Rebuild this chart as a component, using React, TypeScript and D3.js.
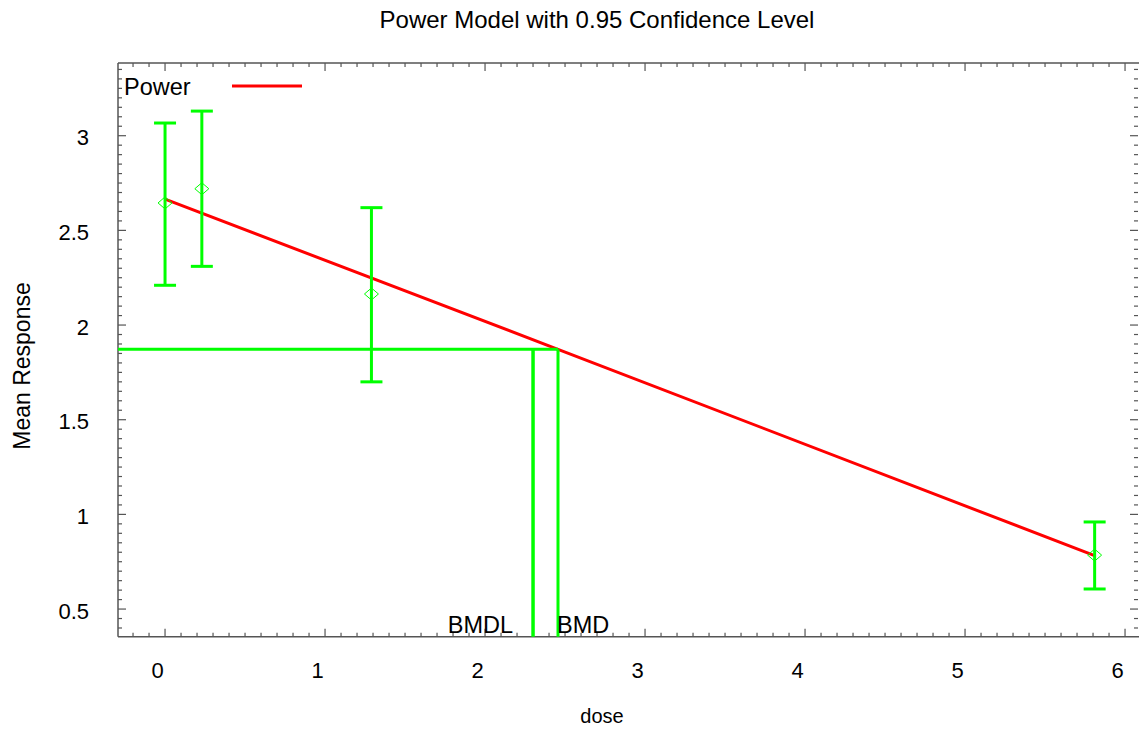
import React from "react";
import * as d3 from "d3";

const doses = [0, 0.23, 1.29, 5.81];
const means = [2.645, 2.72, 2.164, 0.785];
const upper = [3.067, 3.13, 2.62, 0.96];
const lower = [2.21, 2.31, 1.70, 0.606];
const fitDose = [0, 2.456, 5.81];
const fitMean = [2.665, 1.872, 0.782];
const bmd = 2.456;
const bmdl = 2.30;
const bmrResponse = 1.872;
const xTicks = [0, 1, 2, 3, 4, 5, 6];
const yTicks = [0.5, 1, 1.5, 2, 2.5, 3];

const W = 1139, H = 730;
const L = 118, R = 1138, T = 63, B = 636.7;
const FONT = "'Liberation Sans', Arial, sans-serif";

export default function App() {
  const x = d3.scaleLinear().domain([-0.294, 6.081]).range([L, R]);
  const y = d3.scaleLinear().domain([0.354, 3.384]).range([B, T]);
  const green = "#00ff00";
  const axisCol = "#555";

  const xMinor = d3.range(-0.2, 6.081, 0.1).map(v => Math.round(v * 10) / 10);
  const yMinor = d3.range(0.4, 3.384, 0.05).map(v => Math.round(v * 100) / 100);
  const isMajorX = (v: number) => Math.abs(v - Math.round(v)) < 1e-6;
  const isMajorY = (v: number) => Math.abs(v * 2 - Math.round(v * 2)) < 1e-6;

  const line = d3.line<number>().x((_, i) => x(fitDose[i])).y(d => y(d));
  const capW = 11;

  return (
    <svg width={W} height={H} style={{ position: "absolute", left: 0, top: 0, display: "block", background: "#fff" }} fontFamily={FONT}>
      <text x={597} y={28} textAnchor="middle" fontSize={24} fill="#000">Power Model with 0.95 Confidence Level</text>

      {/* frame lines */}
      <line x1={L} y1={T} x2={W} y2={T} stroke={axisCol} strokeWidth={1.5} />
      <line x1={L} y1={T} x2={L} y2={B} stroke={axisCol} strokeWidth={1.5} />
      <line x1={L} y1={B} x2={W} y2={B} stroke={axisCol} strokeWidth={1.5} />

      {/* ticks */}
      {xMinor.map((v, i) => {
        const len = isMajorX(v) ? 8 : 4;
        return (
          <g key={"xt" + i}>
            <line x1={x(v)} x2={x(v)} y1={B} y2={B - len} stroke={axisCol} strokeWidth={1.2} />
            <line x1={x(v)} x2={x(v)} y1={T} y2={T + len} stroke={axisCol} strokeWidth={1.2} />
          </g>
        );
      })}
      {yMinor.map((v, i) => {
        const len = isMajorY(v) ? 8 : 4;
        return (
          <g key={"yt" + i}>
            <line x1={L} x2={L + len} y1={y(v)} y2={y(v)} stroke={axisCol} strokeWidth={1.2} />
            <line x1={R} x2={R - len} y1={y(v)} y2={y(v)} stroke={axisCol} strokeWidth={1.2} />
          </g>
        );
      })}
      {xTicks.map(v => (
        <text key={"xl" + v} x={x(v) - 7.5} y={678} textAnchor="middle" fontSize={22} fill="#000">{v}</text>
      ))}
      {yTicks.map(v => (
        <text key={"yl" + v} x={89} y={y(v) + 9.5} textAnchor="end" fontSize={22} fill="#000">{v}</text>
      ))}

      <text x={602} y={723} textAnchor="middle" fontSize={20} fill="#000">dose</text>
      <text transform={`translate(30,366) rotate(-90)`} textAnchor="middle" fontSize={23} fill="#000">Mean Response</text>

      {/* legend */}
      <text x={124} y={95} fontSize={23.5} fill="#000">Power</text>
      <line x1={232} x2={302} y1={86} y2={86} stroke="#ff0000" strokeWidth={3} />

      {/* fitted line */}
      <path d={line(fitMean) || ""} fill="none" stroke="#ff0000" strokeWidth={3} />

      {/* BMD lines */}
      <line x1={L} x2={x(bmd)} y1={y(bmrResponse)} y2={y(bmrResponse)} stroke={green} strokeWidth={3} />
      <line x1={x(bmdl)} x2={x(bmdl)} y1={B} y2={y(bmrResponse)} stroke={green} strokeWidth={3.5} />
      <line x1={x(bmd)} x2={x(bmd)} y1={B} y2={y(bmrResponse)} stroke={green} strokeWidth={3} />
      <text x={513} y={633} textAnchor="end" fontSize={23.5} fill="#000">BMDL</text>
      <text x={557} y={633} textAnchor="start" fontSize={23.5} fill="#000">BMD</text>

      {/* error bars */}
      {doses.map((d, i) => (
        <g key={"eb" + i}>
          <line x1={x(d)} x2={x(d)} y1={y(lower[i])} y2={y(upper[i])} stroke={green} strokeWidth={3} />
          <line x1={x(d) - capW} x2={x(d) + capW} y1={y(lower[i])} y2={y(lower[i])} stroke={green} strokeWidth={3} />
          <line x1={x(d) - capW} x2={x(d) + capW} y1={y(upper[i])} y2={y(upper[i])} stroke={green} strokeWidth={3} />
          <path d={`M${x(d) - 7},${y(means[i])} L${x(d)},${y(means[i]) - 6} L${x(d) + 7},${y(means[i])} L${x(d)},${y(means[i]) + 6} Z`} fill="none" stroke={green} strokeWidth={1} />
        </g>
      ))}
    </svg>
  );
}
